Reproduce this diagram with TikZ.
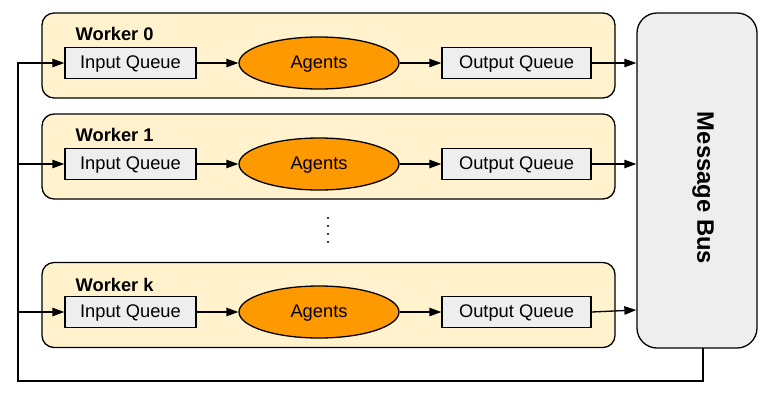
\documentclass[tikz,border=0pt]{standalone}
\usepackage{fontspec}
\setmainfont{Liberation Sans}
\usetikzlibrary{arrows.meta,shapes.geometric,positioning}

\definecolor{workerfill}{HTML}{FFF2CC}
\definecolor{queuefill}{HTML}{EEEEEE}
\definecolor{agentfill}{HTML}{FF9900}

\begin{document}
\begin{tikzpicture}[
  x=0.5pt, y=-0.5pt,
  font=\fontsize{9.15}{11}\selectfont,
  line width=0.65pt,
  worker/.style={draw, rounded corners=6pt, fill=workerfill,
                 minimum width=286.5pt, minimum height=42.5pt},
  wlabel/.style={anchor=west, font=\fontsize{9.15}{11}\selectfont\bfseries, inner sep=0pt},
  queue/.style={draw, fill=queuefill, minimum height=15.5pt, inner sep=0pt,
                text height=6.8pt, text depth=1.6pt},
  agents/.style={draw, ellipse, fill=agentfill, minimum width=80pt,
                 minimum height=26pt, inner sep=0pt,
                 text height=6.8pt, text depth=1.6pt},
  bus/.style={draw, rounded corners=10pt, fill=queuefill,
              minimum width=60pt, minimum height=167.5pt},
  >={Triangle[length=6pt,width=4.2pt]}
]
\useasboundingbox (0,0) rectangle (769,403);

% workers
\node[worker] (w0) at (328.5,55.5) {};
\node[worker] (w1) at (328.5,156.5) {};
\node[worker] (wk) at (328.5,305) {};
\node[wlabel] (l0) at (75,34) {Worker 0};
\node[wlabel] (l1) at (75,135) {Worker 1};
\node[wlabel] (lk) at (75,285) {Worker k};

% queues and agents
\node[queue, minimum width=65.5pt] (in0) at (130.5,63) {Input Queue};
\node[agents] (ag0) at (319,63) {Agents};
\node[queue, minimum width=74.5pt] (out0) at (516.5,63) {Output Queue};
\node[queue, minimum width=65.5pt] (in1) at (130.5,164) {Input Queue};
\node[agents] (ag1) at (319,164) {Agents};
\node[queue, minimum width=74.5pt] (out1) at (516.5,164) {Output Queue};
\node[queue, minimum width=65.5pt] (ink) at (130.5,312) {Input Queue};
\node[agents] (agk) at (319,312) {Agents};
\node[queue, minimum width=74.5pt] (outk) at (516.5,312) {Output Queue};

% message bus
\node[bus] (bus) at (697,180.5) {};
\node[rotate=-90, font=\fontsize{11.9}{14}\selectfont\bfseries] (busl) at (703,188) {Message Bus};

% vertical dots
\foreach \y in {218,226,234,242}
  \fill (328,\y) circle (0.55pt);

\coordinate (busout) at (703,348);
\coordinate (loop) at (18,381);

\draw[->] (in0) -- (ag0);
\draw[->] (ag0) -- (out0);
\draw[->] (out0) -- (out0 -| bus.west);
\draw[->] (in1) -- (ag1);
\draw[->] (ag1) -- (out1);
\draw[->] (out1) -- (out1 -| bus.west);
\draw[->] (ink) -- (agk);
\draw[->] (agk) -- (outk);
\draw[->] (outk.east) -- ([yshift=1pt]outk.east -| bus.west);
\draw[->] (busout) |- (loop) |- (in0.west);
\draw[->] (loop |- in1) -- (in1);
\draw[->] (loop |- ink) -- (ink);
\end{tikzpicture}
\end{document}
